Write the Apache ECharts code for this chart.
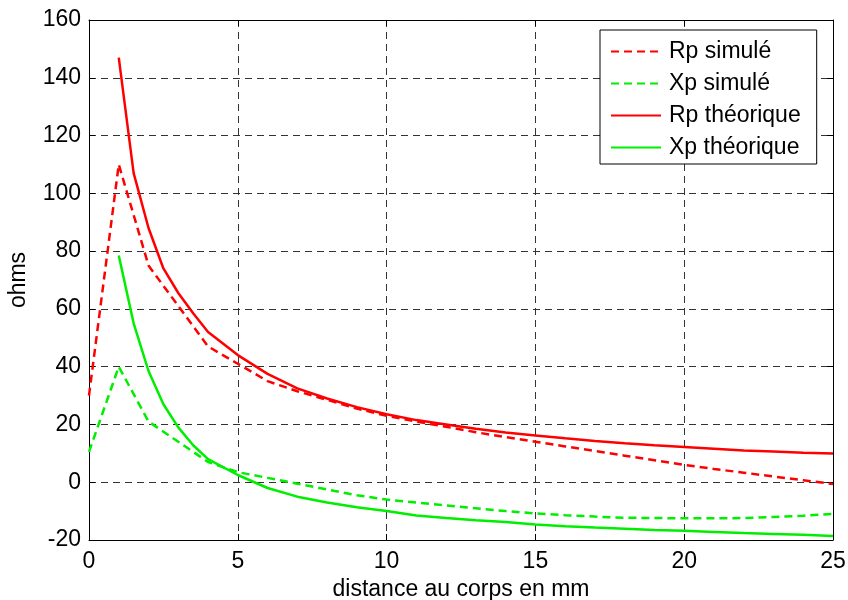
<!DOCTYPE html>
<html>
<head>
<meta charset="utf-8">
<script src="https://cdn.jsdelivr.net/npm/echarts@6/dist/echarts.min.js"></script>
<style>html,body{margin:0;padding:0;background:#fff;}#c{width:848px;height:600px;}</style>
</head>
<body>
<div id="c"></div>
<script>
var xSim = [0,1,2,3,4,5,6,7,8,9,10,11,12,13,14,15,16,17,18,19,20,21,22,23,24,25];
var rpSim = [30,110,75,61,47,41,35,31.5,28.5,25.5,23,21,19.2,17.3,15.6,14,12.4,10.8,9.2,7.6,6,4.6,3.3,2,0.7,-0.6];
var xpSim = [10.5,40,21,14,7,3.5,1.5,-0.5,-2.5,-4.5,-6,-7,-8,-9,-10,-10.8,-11.4,-11.9,-12.3,-12.4,-12.5,-12.5,-12.4,-12,-11.6,-11];
var xTh = [1,1.5,2,2.5,3,3.5,4,5,6,7,8,9,10,11,12,13,14,15,16,17,18,19,20,21,22,23,24,25];
var rpTh = [147,107,88,74,65.5,58.5,52,44,37.5,32.5,29,26,23.5,21.5,20,18.5,17.2,16.2,15.2,14.3,13.5,12.8,12.2,11.6,11,10.6,10.2,9.9];
var xpTh = [78.5,55,38.5,27,19,12.8,8,2.5,-2,-5,-7,-8.7,-10,-11.5,-12.4,-13.2,-13.8,-14.6,-15.2,-15.7,-16.1,-16.5,-16.8,-17.2,-17.6,-17.9,-18.2,-18.6];
var xTicks = {min:0, max:25, interval:5};
var yTicks = {min:-20, max:160, interval:20};
var names = ['Rp simulé','Xp simulé','Rp théorique','Xp théorique'];

function pairs(xs, ys){ return xs.map(function(x,i){ return [x, ys[i]]; }); }

var FONT = '"Liberation Sans", Arial, Helvetica, sans-serif';
var chart = echarts.init(document.getElementById('c'), null, {renderer:'canvas'});
var gridLine = {show:true, lineStyle:{color:'#333', width:1, type:[7,5]}};
function mkX(pos, labels){
  return {type:'value', position:pos, min:xTicks.min, max:xTicks.max, interval:xTicks.interval,
    axisLine:{show:true, onZero:false, lineStyle:{color:'#000', width:1}},
    axisTick:{show:true, inside:true, length:6, lineStyle:{color:'#000'}},
    axisLabel:{show:labels, color:'#000', fontSize:23, fontFamily:FONT, margin:10},
    splitLine: labels ? gridLine : {show:false},
    name: labels ? 'distance au corps en mm' : '', nameLocation:'middle', nameGap:34,
    nameTextStyle:{color:'#000', fontSize:23, fontFamily:FONT}};
}
function mkY(pos, labels){
  return {type:'value', position:pos, min:yTicks.min, max:yTicks.max, interval:yTicks.interval,
    axisLine:{show:true, onZero:false, lineStyle:{color:'#000', width:1}},
    axisTick:{show:true, inside:true, length:6, lineStyle:{color:'#000'}},
    axisLabel:{show:labels, color:'#000', fontSize:23, fontFamily:FONT, margin:8},
    splitLine: labels ? gridLine : {show:false},
    name: labels ? 'ohms' : '', nameLocation:'middle', nameGap:59, nameRotate:90,
    nameTextStyle:{color:'#000', fontSize:23, fontFamily:FONT}};
}
var colors = ['#ff0000','#00ee00','#ff0000','#00ee00'];
var dataSets = [pairs(xSim, rpSim), pairs(xSim, xpSim), pairs(xTh, rpTh), pairs(xTh, xpTh)];
var series = names.map(function(n, i){
  return {name:n, type:'line', data:dataSets[i], symbol:'none', smooth:false, xAxisIndex:0, yAxisIndex:0,
    lineStyle:{color:colors[i], width:2.5, type: i<2 ? [8,5] : 'solid'}, itemStyle:{color:colors[i]},
    z: i<2 ? 3 : 2};
});
chart.setOption({
  animation:false,
  backgroundColor:'#fff',
  grid:{left:89, right:15, top:20, bottom:60, containLabel:false, outerBoundsMode:'none'},
  xAxis:[mkX('bottom', true), mkX('top', false)],
  yAxis:[mkY('left', true), mkY('right', false)],
  legend:{data:names, orient:'vertical', left:600, top:30, itemWidth:50, itemHeight:14, itemGap:9,
    padding:[10,16,5,10], backgroundColor:'#fff', borderColor:'#000', borderWidth:1,
    itemStyle:{opacity:0, borderWidth:0},
    textStyle:{color:'#000', fontSize:23, fontFamily:FONT, lineHeight:23, padding:[0,0,0,3]}},
  series:series
});
</script>
</body>
</html>
